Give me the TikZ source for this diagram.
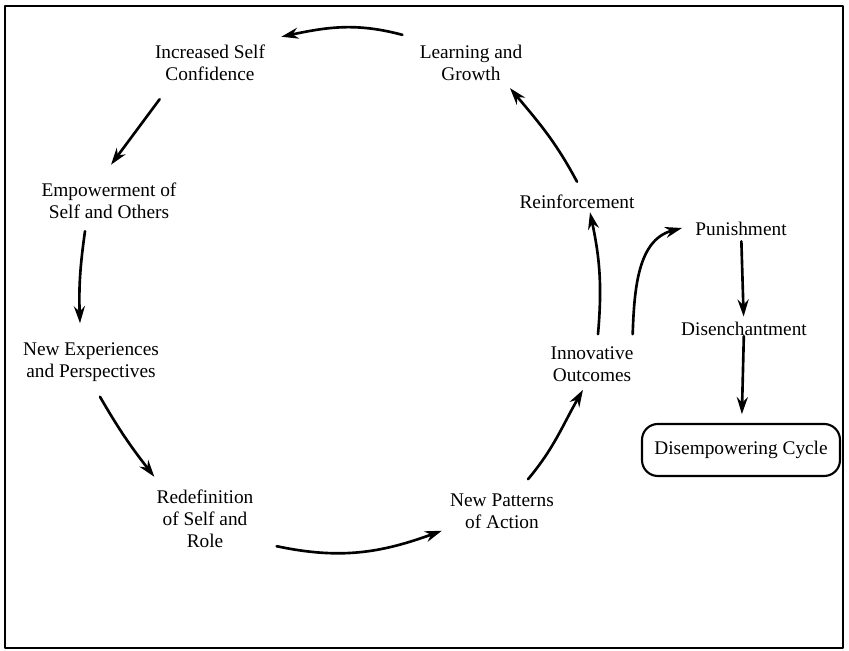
\documentclass[tikz,border=0pt]{standalone}
\usepackage{fontspec}
\setmainfont{Liberation Serif}
\usetikzlibrary{arrows.meta}

\begin{document}
\begin{tikzpicture}[line cap=round,line join=round,>={Stealth[length=3.4mm,width=2.2mm]},x=0.02cm,y=0.02cm,
  lbl/.style={align=center,inner sep=0pt,font=\fontsize{11}{12.5}\selectfont},
  arr/.style={->,line width=1.5pt}]
\useasboundingbox (0,0) rectangle (849,651);
\draw [line width=0.8pt] (5,3) rectangle (843,645);
\node [lbl] (conf) at (210,588) {Increased Self\\Confidence};
\node [lbl] (learn) at (471,588) {Learning and\\Growth};
\node [lbl] (empow) at (109,450) {Empowerment of\\Self and Others};
\node [lbl] (newexp) at (91,289) {New Experiences\\and Perspectives};
\node [lbl] (redef) at (205,132) {Redefinition\\of Self and\\Role};
\node [lbl] (newpat) at (502,140) {New Patterns\\of Action};
\node [lbl] (innov) at (592,287) {Innovative\\Outcomes};
\node [lbl] (reinf) at (577,449) {Reinforcement};
\node [lbl] (punish) at (741,422) {Punishment};
\node [lbl] (disen) at (744,322) {Disenchantment};
\node [lbl,draw,line width=1.2pt,rounded corners=9pt,minimum width=3.96cm,minimum height=1.04cm] (dcycle) at (741,201) {Disempowering Cycle};
\draw [arr] ([shift={(-17,10)}]learn.north west) to[out=165,in=12] ([shift={(16,8)}]conf.north east);
\draw [arr] ([shift={(5,-18)}]conf.south west) -- ([shift={(2,18)}]empow.north);
\draw [arr] ([shift={(-24,-12)}]empow.south) to[out=262,in=92] ([shift={(-11,19)}]newexp.north);
\draw [arr] ([shift={(9,-15)}]newexp.south) to[out=-60,in=128] ([shift={(-2,13)}]redef.north west);
\draw [arr] ([shift={(23,2)}]redef.south east) to[out=-12,in=200] ([shift={(-8,-2)}]newpat.south west);
\draw [arr] ([shift={(26,14)}]newpat.north) to[out=50,in=240] ([shift={(-9,-8)}]innov.south);
\draw [arr] ([shift={(6,12)}]innov.north) to[out=85,in=-78] ([shift={(13,-3)}]reinf.south);
\draw [arr] ([shift={(0,13)}]reinf.north) to[out=118,in=-50] ([shift={(39,-7)}]learn.south);
\draw [arr] ([shift={(-1,12)}]innov.north east) to[out=88,in=195] ([shift={(-13,1)}]punish.west);
\draw [arr,shorten <=3pt,shorten >=3pt] (punish) -- (disen);
\draw [arr,shorten >=5pt] (disen) -- (dcycle);
\end{tikzpicture}
\end{document}
